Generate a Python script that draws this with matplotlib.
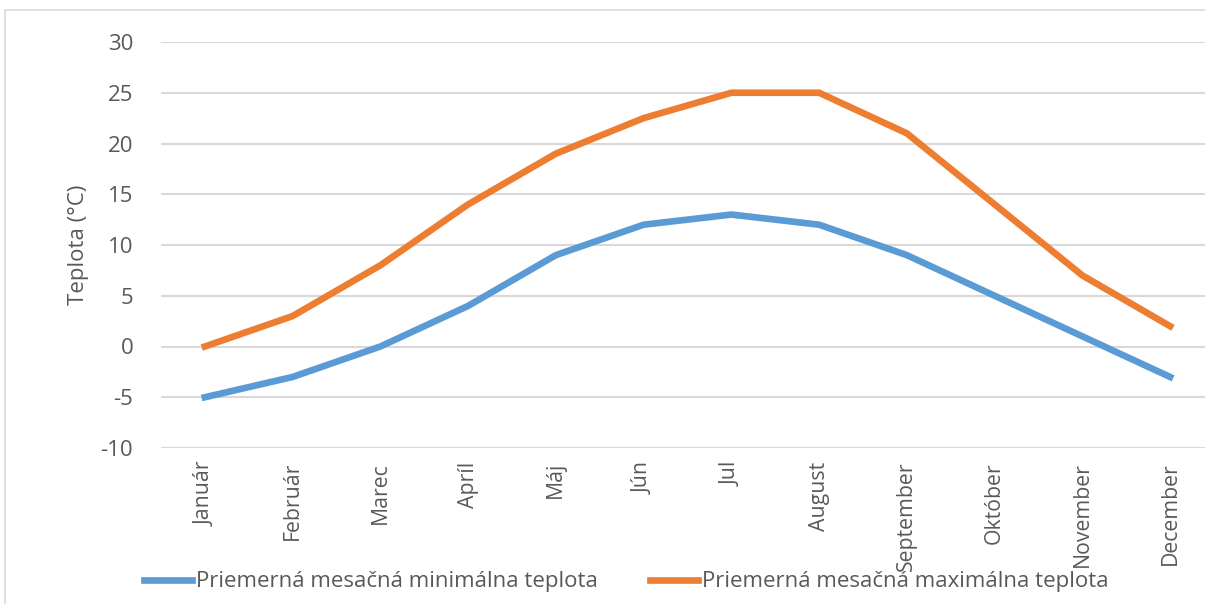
import matplotlib.pyplot as plt
from matplotlib.patches import Rectangle

months = ['Január', 'Február', 'Marec', 'Apríl', 'Máj', 'Jún', 'Jul',
          'August', 'September', 'Október', 'November', 'December']
temp_min = [-5, -3, 0, 4, 9, 12, 13, 12, 9, 5, 1, -3]
temp_max = [0, 3, 8, 14, 19, 22.5, 25, 25, 21, 14, 7, 2]
yticks = [-10, -5, 0, 5, 10, 15, 20, 25, 30]

plt.rcParams['font.family'] = ['Open Sans', 'DejaVu Sans']
text_col = '#595959'
fsize = 16

fig = plt.figure(figsize=(12.05, 6.04), dpi=100)
# chart area border (cropped on the right in the reference)
fig.patches.append(Rectangle((5 / 1205, -0.1), 1.2, 1 - 10 / 604 + 0.1,
                             transform=fig.transFigure, fill=False,
                             edgecolor='#d9d9d9', linewidth=1.2))

ax = fig.add_axes([161 / 1205, 1 - 448 / 604, 1053 / 1205, 406 / 604])
x = list(range(len(months)))
ax.plot(x, temp_min, color='#5b9bd5', linewidth=4.8, solid_joinstyle='round',
        label='Priemerná mesačná minimálna teplota')
ax.plot(x, temp_max, color='#ed7d31', linewidth=4.8, solid_joinstyle='round',
        label='Priemerná mesačná maximálna teplota')

ax.set_xlim(-0.5, len(months) - 0.5)
ax.set_ylim(-10, 30)
ax.set_yticks(yticks)
ax.set_yticklabels([str(v) for v in yticks])
ax.set_xticks(x)
ax.set_xticklabels(months, rotation=90, va='top', ha='center')
ax.tick_params(length=0, labelsize=fsize, colors=text_col)
ax.tick_params(axis='x', labelsize=15.3, pad=10)
ax.tick_params(axis='y', pad=20)
ax.grid(axis='y', color='#d9d9d9', linewidth=1.5)
ax.set_axisbelow(True)
for s in ax.spines.values():
    s.set_visible(False)
ax.set_ylabel('Teplota (°C)', fontsize=fsize, color=text_col, labelpad=8)

fig.legend(loc='center', bbox_to_anchor=(0.52, 1 - 582 / 604), ncol=2,
           frameon=False, fontsize=fsize, labelcolor=text_col,
           handlelength=2.15, handletextpad=0.18, columnspacing=2.35)

fig.savefig('out.png', dpi=100)
